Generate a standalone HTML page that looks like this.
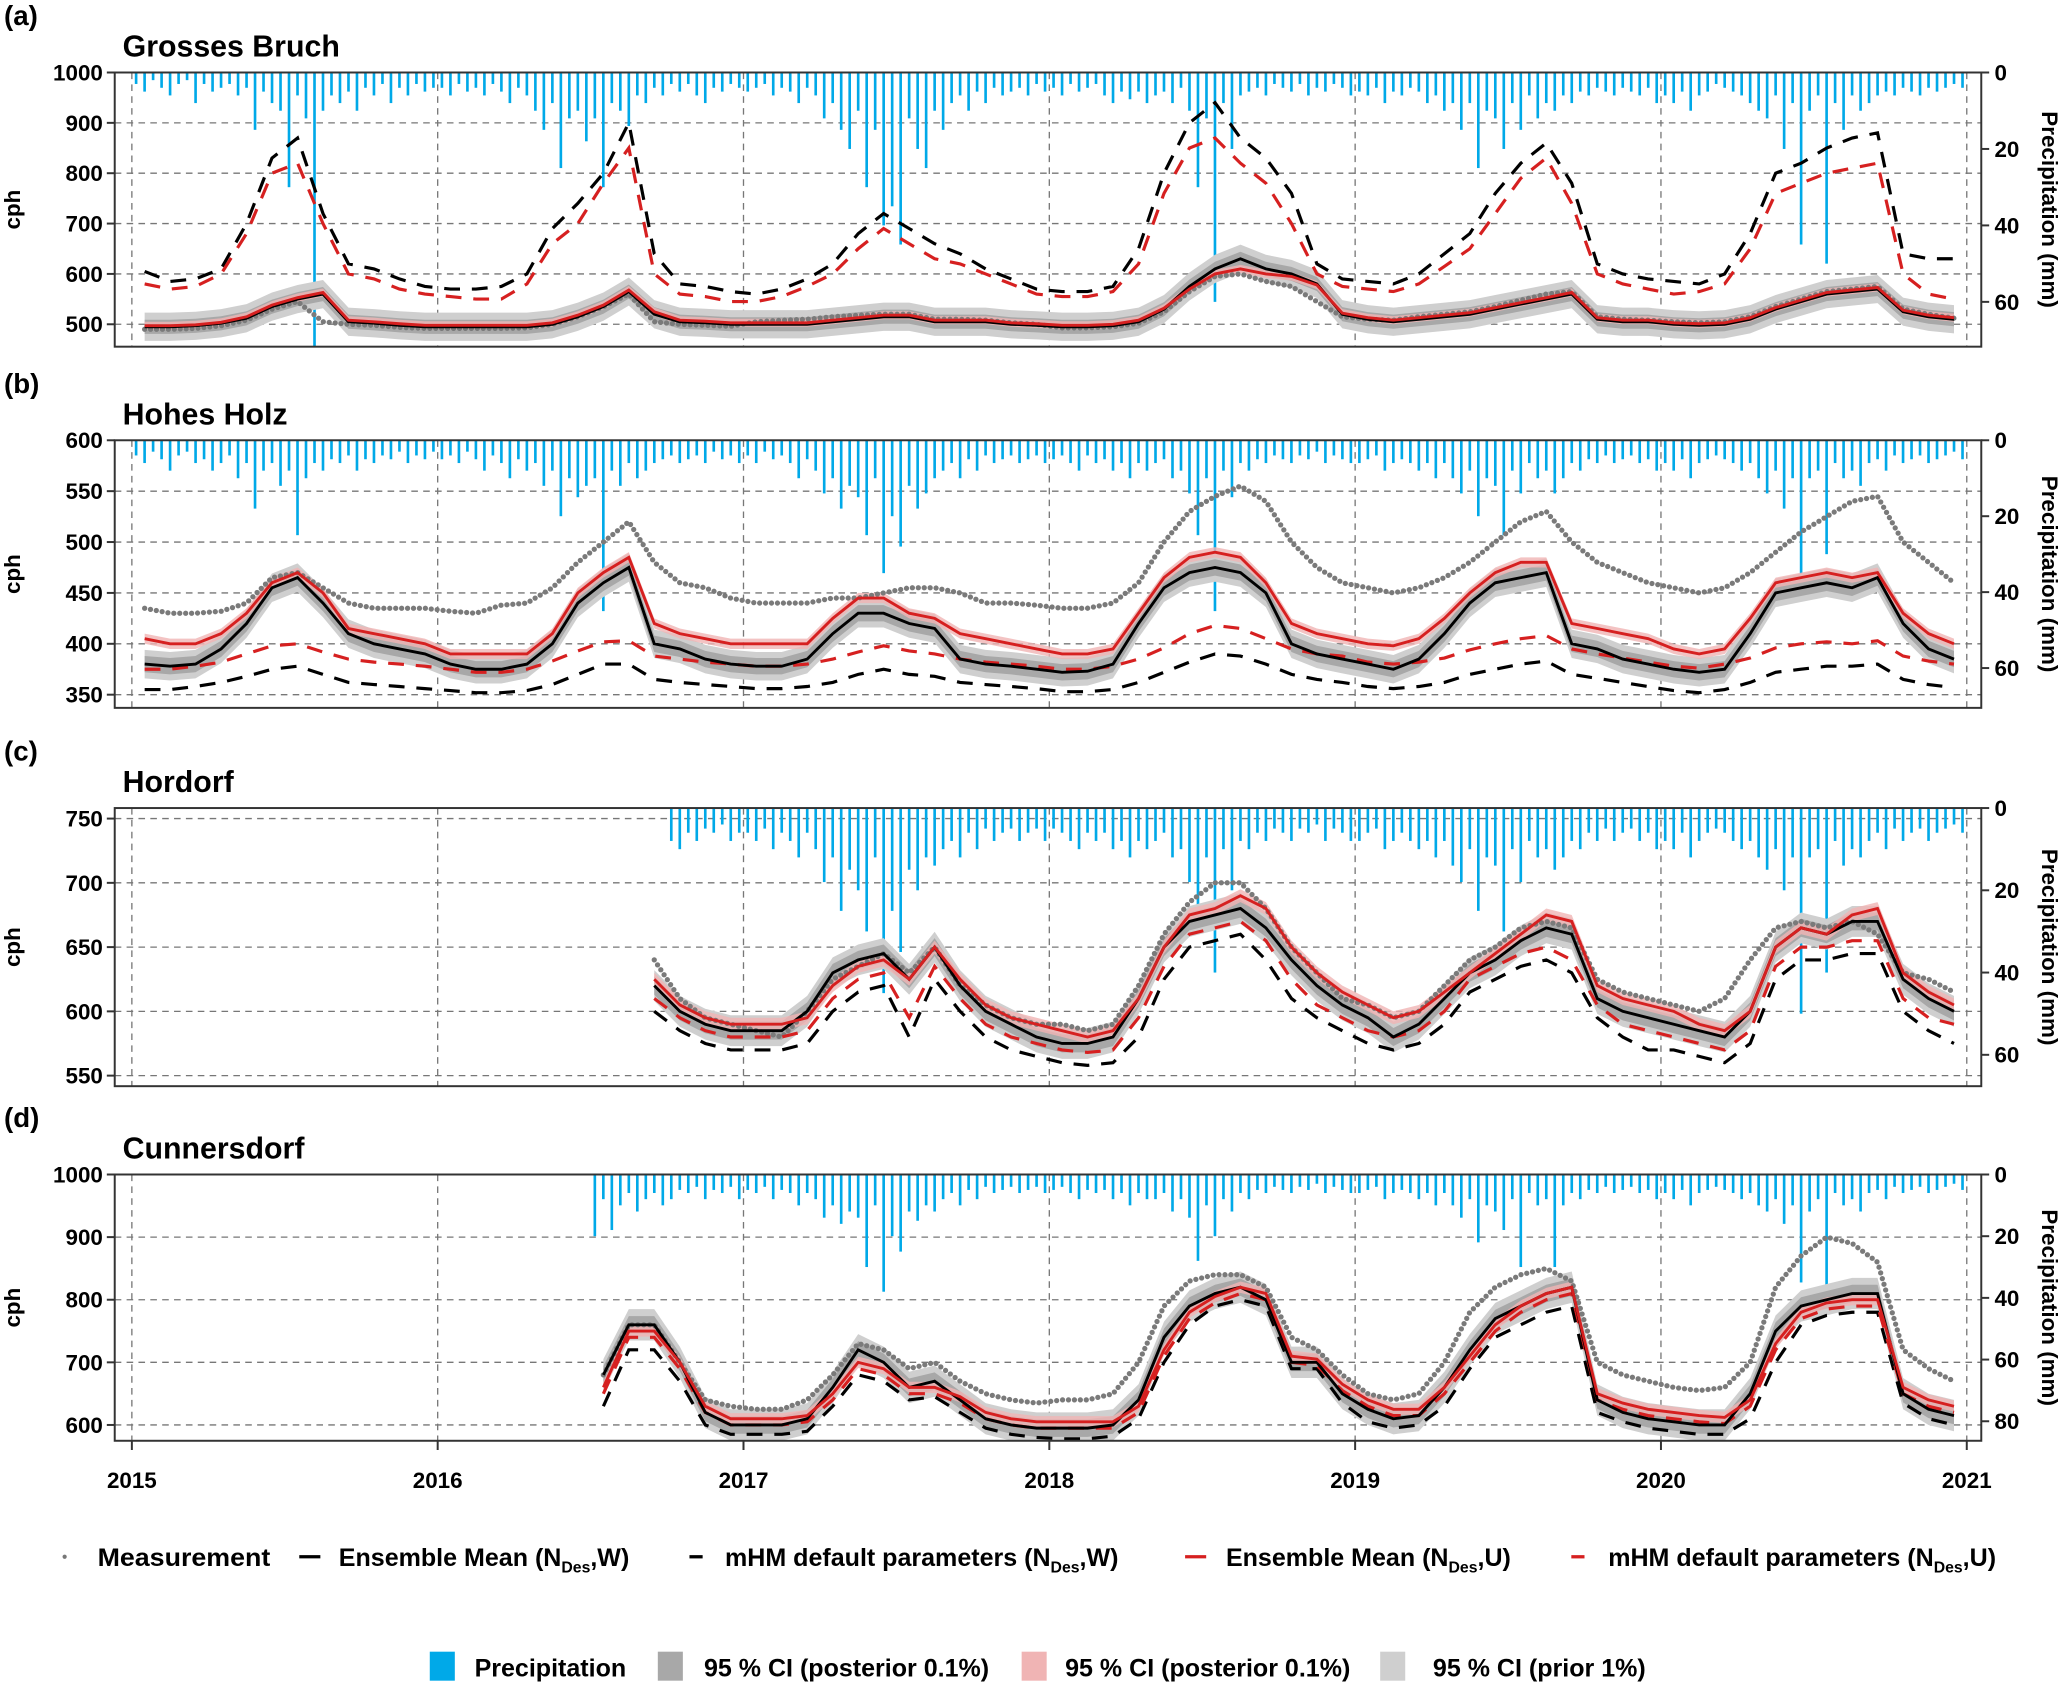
<!DOCTYPE html>
<html><head><meta charset="utf-8"><style>
html,body{margin:0;padding:0;background:#fff}
svg{display:block}
text{font-family:"Liberation Sans Narrow","Liberation Sans",sans-serif;font-weight:bold;fill:#000}
</style></head><body>
<svg id="chart" xmlns="http://www.w3.org/2000/svg" width="2067" height="1682" viewBox="0 0 1568 1276"></svg>
<script>
// ---------- DATA (monthly, Jan 2015 .. Dec 2020; null = no data) ----------
const years = ["2015","2016","2017","2018","2019","2020","2021"];
const N = null;
// Panel a: Grosses Bruch
const aMeas = [490,490,492,497,508,530,545,505,500,498,494,492, 492,492,492,493,500,515,535,560,505,500,498,496, 505,508,510,515,518,520,520,510,510,508,503,500, 493,493,495,502,525,565,595,600,585,575,545,515, 510,508,515,520,525,535,548,560,565,515,510,508, 505,503,505,515,535,550,565,570,575,530,520,512];
const aMeanW = [495,495,497,502,512,535,550,560,505,502,498,495, 495,495,495,495,500,515,535,565,520,505,503,500, 500,500,500,505,510,515,515,505,505,505,500,498, 495,495,497,505,530,575,610,630,610,600,580,520, 510,505,510,515,520,530,540,550,560,510,505,505, 500,498,500,510,530,545,560,565,570,525,515,510];
const aMeanU = [497,497,499,504,515,538,553,563,508,505,501,498, 498,498,498,498,503,518,538,568,525,508,506,503, 503,503,503,508,513,518,518,508,508,508,503,501, 498,498,500,508,532,570,600,610,600,595,578,522, 513,508,513,518,523,533,543,553,563,513,508,508, 503,501,503,513,533,548,563,568,573,528,518,513];
const aDefW = [605,585,590,610,700,830,870,720,620,610,590,575, 570,570,575,600,690,740,800,900,640,580,575,565, 560,570,590,620,680,720,690,660,640,610,590,570, 565,565,575,650,800,900,940,870,830,760,620,590, 585,580,600,640,680,760,820,860,780,620,600,590, 585,580,600,680,800,820,850,870,880,640,630,630];
const aDefU = [580,570,575,600,680,800,820,700,600,590,570,560, 555,550,550,580,660,700,780,850,600,560,555,545, 545,555,575,600,650,690,660,630,620,600,580,560, 555,555,565,620,760,850,870,820,780,700,600,575, 570,565,580,615,650,720,790,830,740,600,580,570, 560,565,580,650,760,780,800,810,820,600,560,550];
// Panel b: Hohes Holz
const bMeas = [435,430,430,432,440,465,470,455,440,435,435,435, 432,430,438,440,455,480,500,520,480,460,455,445, 440,440,440,445,445,450,455,455,450,440,440,438, 435,435,440,460,500,530,545,555,540,500,475,460, 455,450,455,465,480,500,520,530,500,480,470,460, 455,450,455,470,490,510,525,540,545,500,480,460];
const bMeanW = [380,378,380,395,420,455,465,440,410,400,395,390, 380,375,375,380,400,440,460,475,400,395,385,380, 378,378,385,410,430,430,420,415,385,380,378,375, 372,373,380,420,455,470,475,470,450,400,390,385, 380,375,385,410,440,460,465,470,400,395,385,380, 375,372,375,410,450,455,460,455,465,420,395,385];
const bMeanU = [405,400,400,410,430,460,470,450,415,410,405,400, 390,390,390,390,410,450,470,485,420,410,405,400, 400,400,400,425,445,445,430,425,410,405,400,395, 390,390,395,430,465,485,490,485,460,420,410,405, 400,398,405,425,450,470,480,480,420,415,410,405, 395,390,395,425,460,465,470,465,470,430,410,400];
const bDefW = [355,355,358,362,368,375,378,370,362,360,358,356, 354,352,352,354,360,370,380,380,365,362,360,358, 356,356,358,362,370,375,370,368,362,360,358,356, 353,353,355,362,372,382,390,388,380,370,365,362, 358,356,358,362,370,375,380,383,370,366,362,358, 354,352,355,362,372,375,378,378,380,365,360,357];
const bDefU = [375,375,378,382,390,398,400,392,385,382,380,378, 375,372,372,375,383,393,402,403,388,385,382,380, 378,378,380,385,392,398,393,390,385,382,380,378, 375,375,378,385,396,410,418,415,405,395,390,388, 382,380,382,386,394,400,405,408,395,390,386,382, 378,376,380,386,396,400,402,400,403,388,383,380];
// Panel c: Hordorf
const cMeas = [N,N,N,N,N,N,N,N,N,N,N,N, N,N,N,N,N,N,N,N,640,610,595,590, 585,580,600,625,635,645,630,650,620,605,595,590, 590,585,590,620,660,685,700,700,680,650,630,610, 605,595,600,620,640,650,665,670,665,625,615,610, 605,600,610,640,665,670,665,670,660,630,625,615];
const cMeanW = [N,N,N,N,N,N,N,N,N,N,N,N, N,N,N,N,N,N,N,N,620,600,590,585, 585,585,600,630,640,645,625,650,620,600,590,580, 575,575,580,610,650,670,675,680,665,640,620,605, 595,580,590,610,630,640,655,665,660,610,600,595, 590,585,580,600,650,665,660,670,670,625,610,600];
const cMeanU = [N,N,N,N,N,N,N,N,N,N,N,N, N,N,N,N,N,N,N,N,625,605,595,590, 590,590,595,620,635,640,625,650,625,605,595,590, 585,580,585,610,650,675,680,690,680,650,630,615, 605,595,600,615,630,645,660,675,670,620,610,605, 600,590,585,600,650,665,660,675,680,630,615,605];
const cDefW = [N,N,N,N,N,N,N,N,N,N,N,N, N,N,N,N,N,N,N,N,600,585,575,570, 570,570,575,600,615,620,580,625,600,580,570,565, 560,558,560,580,625,650,655,660,640,610,595,585, 575,570,575,590,615,625,635,640,630,595,580,570, 570,565,560,575,625,640,640,645,645,600,585,575];
const cDefU = [N,N,N,N,N,N,N,N,N,N,N,N, N,N,N,N,N,N,N,N,610,595,585,580, 580,580,585,610,625,630,595,635,610,590,580,575, 570,568,570,595,635,660,665,670,655,625,605,595, 585,580,585,600,625,635,645,650,640,605,590,585, 580,575,570,585,635,650,650,655,655,610,595,590];
// Panel d: Cunnersdorf
const dMeas = [N,N,N,N,N,N,N,N,N,N,N,N, N,N,N,N,N,N,680,760,760,700,640,630, 625,625,640,680,730,720,690,700,670,650,640,635, 640,640,650,700,790,830,840,840,820,740,720,680, 650,640,650,700,780,820,840,850,830,700,680,670, 660,655,660,700,820,870,900,890,860,720,690,670];
const dMeanW = [N,N,N,N,N,N,N,N,N,N,N,N, N,N,N,N,N,N,680,760,760,700,620,600, 600,600,610,660,720,700,660,670,640,610,600,595, 595,595,600,640,740,790,810,820,800,700,700,650, 625,610,615,660,720,770,790,810,820,640,620,610, 605,600,600,650,750,790,800,810,810,650,625,615];
const dMeanU = [N,N,N,N,N,N,N,N,N,N,N,N, N,N,N,N,N,N,660,750,750,700,630,610, 610,610,615,650,700,690,660,660,645,620,610,605, 605,605,605,630,720,780,805,820,810,710,705,665, 640,625,625,660,710,760,790,810,820,650,635,625, 620,615,612,640,730,780,795,800,800,660,640,630];
const dDefW = [N,N,N,N,N,N,N,N,N,N,N,N, N,N,N,N,N,N,630,720,720,670,600,585, 585,585,590,630,680,670,640,645,620,595,585,580, 578,578,582,610,700,760,790,800,790,690,690,635, 605,595,600,630,690,740,760,780,790,620,605,595, 590,585,585,610,700,760,775,780,780,635,610,600];
const dDefU = [N,N,N,N,N,N,N,N,N,N,N,N, N,N,N,N,N,N,650,740,740,690,620,600, 600,600,605,640,690,680,650,650,635,610,600,595, 595,595,595,620,710,770,795,810,800,700,695,655, 630,615,615,650,700,750,780,800,810,640,625,615, 610,605,602,630,720,770,785,790,790,650,630,620];
// Precipitation (mm), 3 values per month
const aPrec = [3,5,2,4,6,3,2,8,3,5,4,3,6,4,15,5,8,10,30,6,12,80,10,6,8,5,10,4,6,3,8,4,6,3,5,4,
 4,6,3,5,4,6,3,5,8,4,6,10,15,8,25,12,10,18,12,30,8,10,14,6,8,4,6,3,5,3,6,8,4,5,3,4,
 5,4,3,6,4,5,8,4,6,12,8,15,20,10,30,15,40,35,45,12,20,25,10,15,8,6,10,5,8,4,6,5,4,6,3,5,
 4,6,3,5,4,3,6,8,5,7,5,8,6,5,8,4,10,30,12,60,8,20,6,5,4,6,3,4,5,3,6,4,5,3,4,6,
 5,6,4,8,5,6,4,5,8,6,10,8,15,8,25,10,12,20,8,15,6,12,8,10,6,8,5,6,4,5,6,4,5,6,4,8,
 6,8,5,10,6,5,3,4,5,6,8,10,12,6,20,8,45,10,6,50,8,15,6,10,8,6,5,6,4,5,6,4,5,4,3,4];
const bPrec = [4,6,3,5,8,4,3,6,5,8,6,4,10,6,18,8,6,12,8,25,10,6,8,5,6,4,8,5,6,4,5,3,6,4,5,3,
 5,4,6,3,5,8,4,6,10,5,8,6,12,8,20,10,15,12,10,45,8,12,6,10,8,6,5,4,6,5,4,6,3,5,4,6,
 4,6,3,5,4,6,10,5,8,14,10,18,12,15,25,10,35,20,28,12,18,14,10,8,6,10,5,8,4,6,5,4,6,5,4,6,
 5,4,6,8,4,6,5,8,6,10,6,8,6,5,10,8,14,25,10,45,8,15,6,8,5,6,4,5,6,4,5,3,6,4,5,6,
 6,5,4,8,6,5,6,8,6,10,6,10,14,8,20,10,12,25,8,14,6,10,8,14,10,6,8,5,6,4,6,5,4,6,5,8,
 6,8,5,10,6,5,4,5,6,8,6,10,14,8,18,10,40,10,8,30,6,10,8,12,6,5,8,4,6,5,4,6,5,4,3,5];
const cPrec = [0,0,0,0,0,0,0,0,0,0,0,0,0,0,0,0,0,0,0,0,0,0,0,0,0,0,0,0,0,0,0,0,0,0,0,0,
 0,0,0,0,0,0,0,0,0,0,0,0,0,0,0,0,0,0,0,0,0,0,0,0,0,0,0,8,10,6,8,5,6,4,8,6,
 6,8,5,10,6,8,12,6,10,18,12,25,15,20,30,12,45,25,35,15,20,12,14,10,8,12,6,10,5,8,6,5,8,6,5,8,
 5,6,8,10,6,8,6,10,8,12,8,10,8,6,12,10,18,28,12,40,10,20,8,10,6,8,5,6,8,5,6,4,8,5,6,8,
 8,6,5,10,8,6,8,10,8,12,8,14,18,10,25,12,14,30,10,18,8,12,10,15,12,8,10,6,8,5,8,6,5,8,6,10,
 8,10,6,12,8,6,5,6,8,10,8,12,15,10,20,12,50,12,10,40,8,14,10,12,8,6,10,5,8,6,5,8,6,5,4,6];
const dPrec = [0,0,0,0,0,0,0,0,0,0,0,0,0,0,0,0,0,0,0,0,0,0,0,0,0,0,0,0,0,0,0,0,0,0,0,0,
 0,0,0,0,0,0,0,0,0,0,0,0,0,0,0,0,0,0,20,8,18,10,6,12,8,6,10,8,5,6,4,8,5,6,4,8,
 5,6,4,8,5,6,10,6,8,14,10,16,12,14,30,10,38,20,25,12,15,10,12,8,6,10,5,8,4,6,5,4,6,5,4,6,
 5,4,6,8,5,6,5,8,6,10,6,8,8,6,12,8,14,28,10,20,8,12,6,8,5,6,4,5,6,4,5,3,6,4,5,6,
 6,5,4,8,6,5,6,8,6,10,6,10,14,8,22,10,12,18,8,30,6,10,8,30,10,6,8,5,6,4,6,5,4,6,5,8,
 6,8,5,10,6,5,4,5,6,8,6,10,12,8,16,10,35,12,8,38,6,10,8,12,6,5,8,4,6,5,4,6,5,4,3,5];

// ---------- LAYOUT ----------
const X0 = 100, YEARPX = 232, PL = 87, PR = 1503;
const panels = [
 {key:"a",label:"(a)",title:"Grosses Bruch",top:55,bot:263,vTop:1000,pxPerUnit:0.382,ticks:[500,600,700,800,900,1000],precTicks:[0,20,40,60],mmPx:2.9,
  meas:aMeas,mw:aMeanW,mu:aMeanU,dw:aDefW,du:aDefU,prec:aPrec,ci:[28,14,8]},
 {key:"b",label:"(b)",title:"Hohes Holz",top:334,bot:537,vTop:600,pxPerUnit:0.772,ticks:[350,400,450,500,550,600],precTicks:[0,20,40,60],mmPx:2.88,
  meas:bMeas,mw:bMeanW,mu:bMeanU,dw:bDefW,du:bDefU,prec:bPrec,ci:[14,8,5]},
 {key:"c",label:"(c)",title:"Hordorf",top:613,bot:824,vTop:758.2,pxPerUnit:0.975,ticks:[550,600,650,700,750],precTicks:[0,20,40,60],mmPx:3.12,
  meas:cMeas,mw:cMeanW,mu:cMeanU,dw:cDefW,du:cDefU,prec:cPrec,ci:[12,7,5]},
 {key:"d",label:"(d)",title:"Cunnersdorf",top:891,bot:1093,vTop:1000,pxPerUnit:0.475,ticks:[600,700,800,900,1000],precTicks:[0,20,40,60,80],mmPx:2.34,
  meas:dMeas,mw:dMeanW,mu:dMeanU,dw:dDefW,du:dDefU,prec:dPrec,ci:[25,14,9]}
];
const NS = "http://www.w3.org/2000/svg";
const svg = document.getElementById("chart");
function mk(tag, attrs, parent){const e=document.createElementNS(NS,tag);for(const k in attrs)e.setAttribute(k,attrs[k]);(parent||svg).appendChild(e);return e;}
const xMonth = m => X0 + (m+0.5)/12*YEARPX;
const xDek = i => X0 + (i+0.5)/36*YEARPX;
const xYear = k => X0 + k*YEARPX;

function pathFrom(arr, yf){let d="",pen=false;arr.forEach((v,m)=>{if(v===null){pen=false;return;}d+=(pen?"L":"M")+xMonth(m).toFixed(1)+","+yf(v).toFixed(1);pen=true;});return d;}
function bandFrom(arr, hw, yf){const idx=arr.map((v,i)=>v===null?-1:i).filter(i=>i>=0);let d="M";idx.forEach((i,k)=>{d+=(k?"L":"")+xMonth(i).toFixed(1)+","+yf(arr[i]+hw).toFixed(1);});for(let k=idx.length-1;k>=0;k--){const i=idx[k];d+="L"+xMonth(i).toFixed(1)+","+yf(arr[i]-hw).toFixed(1);}return d+"Z";}

panels.forEach(p=>{
  const y = v => p.top + (p.vTop - v)*p.pxPerUnit;
  const g = mk("g",{});
  
  
  const cp = mk("clipPath",{id:"clip"+p.key},g);
  mk("rect",{x:PL,y:p.top,width:PR-PL,height:p.bot-p.top},cp);
  const lab = mk("text",{x:3,y:p.top-36,"font-size":21,"font-weight":"normal"},g); lab.textContent=p.label;
  
  
  const tt = mk("text",{x:93,y:p.top-12,"font-size":23},g); tt.textContent=p.title;
  
  
  p.ticks.forEach(t=>{
    const ln=mk("line",{x1:PL,x2:PR,y1:y(t),y2:y(t),stroke:"#777","stroke-width":1,"stroke-dasharray":"5,4"},g);
    
    
    mk("line",{x1:PL-6,x2:PL,y1:y(t),y2:y(t),stroke:"#333","stroke-width":1.5},g);
    const tl=mk("text",{x:PL-9,y:y(t)+6,"font-size":17,"text-anchor":"end"},g); tl.textContent=t;
    
    
  });
  years.forEach((yr,k)=>{
    const vl=mk("line",{x1:xYear(k),x2:xYear(k),y1:p.top,y2:p.bot,stroke:"#777","stroke-width":1,"stroke-dasharray":"5,4"},g);
    
    
  });
  const cg = mk("g",{"clip-path":"url(#clip"+p.key+")"},g);
  const pg = mk("g",{},cg);
  
  
  p.prec.forEach((v,i)=>{ if(v<=0) return;
    const b=mk("rect",{x:xDek(i)-1,y:p.top,width:2,height:v*p.mmPx,fill:"#00a9e8"},pg);
    
    
  });
  const b1=mk("path",{d:bandFrom(p.mw,p.ci[0],y),fill:"#cfcfcf"},cg);
  
  
  const b2=mk("path",{d:bandFrom(p.mw,p.ci[1],y),fill:"#a8a8a8"},cg);
  
  
  const b3=mk("path",{d:bandFrom(p.mu,p.ci[2],y),fill:"#f0b4b4","fill-opacity":0.8},cg);
  
  
  const ms=mk("path",{d:pathFrom(p.meas,y),fill:"none",stroke:"#7a7a7a","stroke-width":4,"stroke-linecap":"round","stroke-dasharray":"0,4.5"},cg);
  
  
  const l1=mk("path",{d:pathFrom(p.dw,y),fill:"none",stroke:"#000","stroke-width":2.4,"stroke-dasharray":"12,9"},cg);
  
  
  const l2=mk("path",{d:pathFrom(p.du,y),fill:"none",stroke:"#d62020","stroke-width":2.4,"stroke-dasharray":"12,9"},cg);
  
  
  const l3=mk("path",{d:pathFrom(p.mw,y),fill:"none",stroke:"#000","stroke-width":2.2},cg);
  
  
  const l4=mk("path",{d:pathFrom(p.mu,y),fill:"none",stroke:"#d62020","stroke-width":2.2},cg);
  
  
  const fr=mk("rect",{x:PL,y:p.top,width:PR-PL,height:p.bot-p.top,fill:"none",stroke:"#333","stroke-width":1.5},g);
  
  
  p.precTicks.forEach(t=>{
    const yy=p.top+t*p.mmPx;
    mk("line",{x1:PR,x2:PR+6,y1:yy,y2:yy,stroke:"#333","stroke-width":1.5},g);
    const tl=mk("text",{x:PR+10,y:yy+6,"font-size":17},g); tl.textContent=t;
    
    
  });
  const yl=mk("text",{transform:"translate(15,"+((p.top+p.bot)/2)+") rotate(-90)","font-size":17,"text-anchor":"middle"},g); yl.textContent="cph";
  
  
  const yr=mk("text",{transform:"translate(1549,"+((p.top+p.bot)/2)+") rotate(90)","font-size":17,"text-anchor":"middle"},g); yr.textContent="Precipitation (mm)";
  
  
});
years.forEach((yr,k)=>{
  mk("line",{x1:xYear(k),x2:xYear(k),y1:1093,y2:1100,stroke:"#333","stroke-width":1.5});
  const t=mk("text",{x:xYear(k),y:1129,"font-size":17,"text-anchor":"middle"}); t.textContent=yr;
  
  
});
</script>
<svg style="position:absolute;left:0;top:0" width="2067" height="1682" viewBox="0 0 1568 1276" xmlns="http://www.w3.org/2000/svg">
 <g font-size="19">
  <circle cx="49" cy="1181" r="1.6" fill="#777"/>
  <text x="74" y="1188" textLength="131" lengthAdjust="spacingAndGlyphs">Measurement</text>
  <line x1="227" y1="1181" x2="243" y2="1181" stroke="#000" stroke-width="2.5"/>
  <text x="257" y="1188">Ensemble Mean (N<tspan font-size="12" dy="5">Des</tspan><tspan dy="-5">,W)</tspan></text>
  <line x1="523" y1="1181" x2="533" y2="1181" stroke="#000" stroke-width="2.5"/>
  <text x="550" y="1188">mHM default parameters (N<tspan font-size="12" dy="5">Des</tspan><tspan dy="-5">,W)</tspan></text>
  <line x1="899" y1="1181" x2="915" y2="1181" stroke="#d62020" stroke-width="2.5"/>
  <text x="930" y="1188">Ensemble Mean (N<tspan font-size="12" dy="5">Des</tspan><tspan dy="-5">,U)</tspan></text>
  <line x1="1192" y1="1181" x2="1202" y2="1181" stroke="#d62020" stroke-width="2.5"/>
  <text x="1220" y="1188">mHM default parameters (N<tspan font-size="12" dy="5">Des</tspan><tspan dy="-5">,U)</tspan></text>
 </g>
 <g font-size="19">
  <rect x="326" y="1253" width="19" height="22" fill="#00a9e8"/>
  <text x="360" y="1272">Precipitation</text>
  <rect x="499" y="1253" width="19" height="22" fill="#a8a8a8"/>
  <text x="534" y="1272">95 % CI (posterior 0.1%)</text>
  <rect x="775" y="1253" width="19" height="22" fill="#f0b4b4"/>
  <text x="808" y="1272">95 % CI (posterior 0.1%)</text>
  <rect x="1047" y="1253" width="19" height="22" fill="#cfcfcf"/>
  <text x="1087" y="1272">95 % CI (prior 1%)</text>
 </g>
</svg>
</body></html>
